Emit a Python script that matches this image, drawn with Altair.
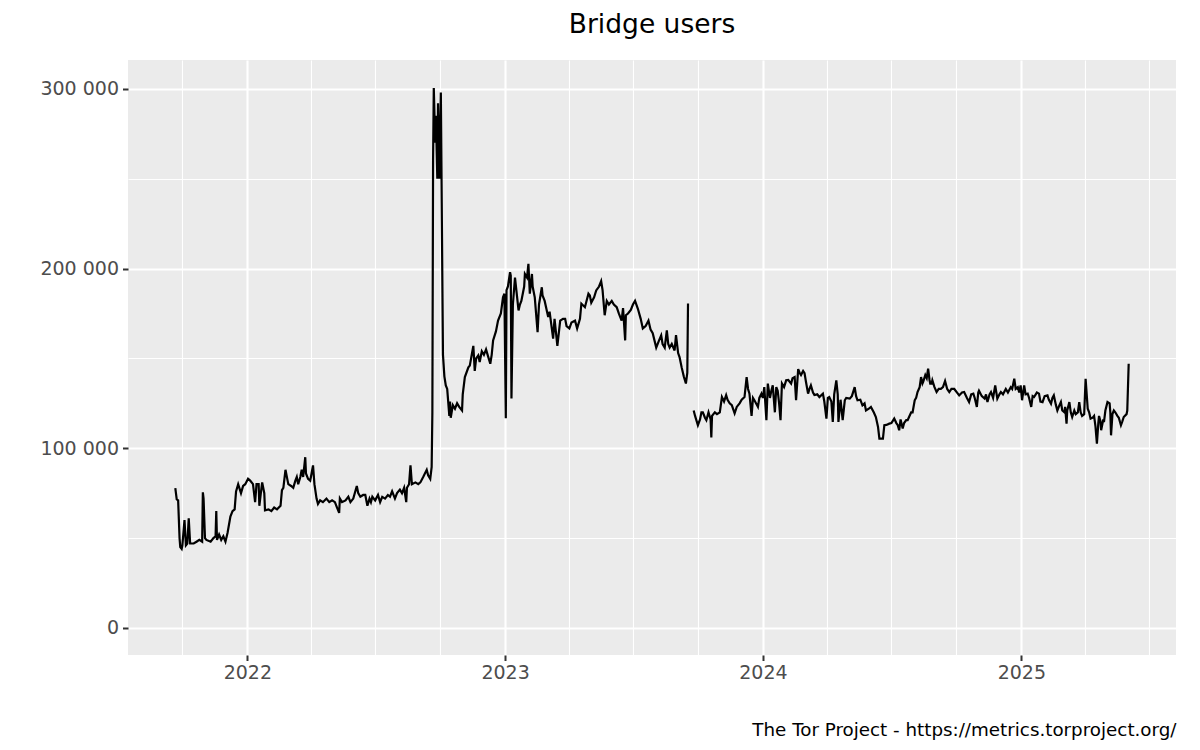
import altair as alt
import pandas as pd

# Dates are stored as day offsets from 2022-01-01
START = pd.Timestamp("2022-01-01")

seg1_days = [-102, -100, -98, -96, -95, -93, -92, -89, -87, -85, -83, -81, -76, -72, -68, -64, -63, -62, -60, -58,
             -52, -48, -45, -44, -43, -40, -37, -34, -31, -28, -24, -21, -18, -16, -13, -9, -6, -3, 1, 4,
             8, 11, 13, 16, 17, 20, 21, 24, 25, 30, 34, 38, 42, 47, 49, 51, 54, 57, 58, 62,
             65, 68, 70, 72, 75, 77, 79, 82, 83, 86, 89, 90, 93, 95, 98, 100, 103, 107, 112, 116,
             120, 124, 127, 130, 131, 134, 139, 143, 146, 150, 155, 157, 160, 164, 167, 170, 173, 175, 177, 181,
             185, 188, 191, 195, 199, 202, 205, 209, 212, 216, 219, 222, 225, 226, 229, 231, 233, 238, 242, 245,
             249, 254, 256, 259, 261, 262, 263, 264, 266, 267, 269, 270, 272, 274, 276, 277, 279, 281, 283, 286,
             287, 288, 291, 294, 297, 300, 304, 305, 308, 313, 315, 318, 320, 322, 324, 327, 329, 332, 335, 338,
             341, 344, 346, 348, 352, 355, 359, 362, 364, 366, 367, 369, 372, 373, 374, 376, 379, 384, 386, 388,
             392, 393, 396, 398, 400, 403, 404, 407, 411, 413, 417, 418, 421, 426, 428, 433, 435, 439, 443, 447,
             450, 452, 456, 459, 464, 467, 471, 473, 478, 483, 485, 487, 491, 494, 498, 501, 503, 506, 509, 512,
             516, 519, 523, 526, 530, 532, 535, 536, 539, 543, 546, 549, 553, 557, 560, 564, 568, 571, 574, 579,
             583, 586, 588, 591, 594, 596, 598, 601, 605, 607, 610, 612, 615, 618, 621, 623, 624]
seg1_users = [77800, 71500, 71000, 50000, 45000, 44000, 46000, 60000, 46000, 47000, 61000, 47000, 47000, 48000, 49000, 48000, 75500, 72000, 50000, 49000,
              48000, 50000, 51000, 65000, 49000, 52000, 49000, 51000, 48000, 53000, 62000, 65000, 66000, 76000, 80000, 75000, 79000, 80000, 83000, 82000,
              80000, 70000, 80000, 80000, 68000, 78000, 81000, 75000, 65500, 66000, 65000, 67000, 66000, 68000, 76700, 78000, 88000, 82000, 80000, 79000,
              78000, 82000, 84000, 80000, 84000, 88000, 84000, 95000, 86000, 83000, 82000, 84000, 90500, 80000, 72000, 69000, 71000, 70000, 72000, 70000,
              71000, 70000, 67000, 64000, 72000, 70000, 71000, 73000, 70000, 72000, 79000, 75000, 73000, 74000, 74000, 68000, 72000, 70000, 73000, 71000,
              74000, 70000, 73000, 72000, 74000, 73000, 76000, 72000, 75000, 77000, 75000, 78000, 70000, 78000, 80000, 90500, 80000, 81000, 80000, 81000,
              84000, 88000, 85000, 83000, 89600, 120000, 260000, 300500, 270000, 285000, 250000, 292000, 250000, 298000, 200000, 152000, 140000, 135000, 133000, 118000,
              126000, 117000, 124000, 122000, 125000, 123000, 121000, 130000, 139600, 145000, 146000, 152600, 157000, 143000, 150000, 151700, 148000, 154000, 152000, 155000,
              151000, 147000, 152000, 160000, 165000, 171000, 175000, 184000, 186000, 116700, 188000, 190000, 198000, 196000, 127700, 180000, 195000, 176700, 180000, 182000,
              190000, 197000, 195000, 202600, 186000, 197000, 190000, 184000, 164600, 180000, 189600, 185000, 182000, 173000, 176000, 161000, 172000, 157000, 171000, 172000,
              172000, 168000, 166700, 170000, 171000, 166700, 172000, 180500, 178500, 186000, 185000, 181000, 184000, 187800, 190000, 193000, 188000, 174000, 182000, 180000,
              182000, 180000, 178500, 175000, 171000, 178000, 160000, 174000, 175000, 177000, 180000, 182000, 177600, 172000, 166700, 168000, 171000, 166000, 164000, 156000,
              160000, 162800, 158000, 156000, 165600, 158000, 156000, 158000, 154400, 163000, 153000, 150700, 145000, 140000, 136000, 142000, 180500]

seg2_days = [632, 634, 638, 641, 643, 645, 648, 650, 653, 656, 657, 658, 662, 665, 669, 672, 675, 678, 680, 683,
             686, 690, 693, 697, 700, 704, 707, 709, 711, 714, 716, 718, 723, 725, 728, 730, 732, 735, 737, 740,
             742, 744, 747, 749, 751, 753, 755, 757, 760, 763, 766, 770, 772, 775, 777, 780, 782, 784, 787, 789,
             791, 794, 796, 798, 801, 803, 807, 810, 815, 817, 820, 822, 824, 827, 829, 831, 834, 836, 837, 840,
             843, 846, 848, 853, 856, 860, 862, 864, 868, 871, 874, 876, 880, 883, 887, 890, 893, 895, 900, 902,
             905, 909, 912, 916, 919, 921, 923, 925, 928, 930, 933, 935, 937, 940, 942, 945, 947, 949, 952, 954,
             956, 957, 960, 962, 964, 966, 967, 969, 970, 973, 976, 979, 982, 985, 988, 991, 994, 997, 1001, 1005,
             1008, 1012, 1015, 1019, 1022, 1025, 1028, 1030, 1033, 1035, 1036, 1040, 1044, 1046, 1048, 1051, 1053, 1056, 1059, 1062,
             1065, 1067, 1070, 1074, 1077, 1081, 1083, 1086, 1088, 1091, 1093, 1095, 1097, 1100, 1102, 1105, 1107, 1110, 1112, 1114,
             1118, 1121, 1123, 1126, 1129, 1133, 1135, 1138, 1140, 1142, 1145, 1147, 1150, 1152, 1154, 1157, 1158, 1160, 1161, 1164,
             1166, 1168, 1171, 1173, 1176, 1178, 1180, 1182, 1185, 1187, 1190, 1192, 1194, 1197, 1199, 1201, 1203, 1205, 1206, 1208,
             1209, 1212, 1213, 1215, 1218, 1221, 1222, 1223, 1225, 1227, 1229, 1232, 1234, 1237, 1239, 1241, 1245, 1246, 1248]
seg2_users = [121000, 118000, 112800, 116000, 120000, 120000, 117000, 115600, 120000, 116000, 106000, 118000, 120000, 119000, 120000, 128500, 126000, 129600, 127000, 125000,
              124000, 119400, 123000, 125000, 127000, 128500, 139600, 133000, 130400, 118000, 128000, 126700, 123000, 128000, 130400, 128000, 134000, 115600, 136000, 128000,
              132000, 135000, 120000, 134000, 132000, 125000, 115600, 136000, 134000, 137800, 138000, 136000, 139000, 139600, 126700, 144000, 142000, 140700, 143000, 141800,
              137000, 130400, 133000, 135000, 131000, 129600, 130000, 128500, 130400, 126000, 116500, 128000, 128500, 126000, 114600, 130000, 137800, 130000, 114600, 127000,
              115600, 126700, 128000, 127600, 129000, 134000, 129000, 126700, 127000, 123900, 125000, 121000, 122000, 123000, 120000, 117400, 112000, 105400, 105400, 112800,
              113000, 113700, 114000, 116500, 114000, 112800, 110000, 116000, 111000, 114000, 115600, 115600, 117400, 120000, 120000, 126700, 128000, 131300, 134000, 139600,
              136000, 136900, 140700, 139000, 144300, 138000, 136000, 136000, 137800, 134000, 131300, 133000, 133000, 134000, 137400, 133000, 131300, 133000, 133000, 131000,
              129400, 131000, 131300, 128000, 125700, 130000, 130400, 128000, 123000, 131000, 132000, 129000, 127600, 130000, 125700, 130000, 131300, 128000, 135000, 127600,
              130000, 131300, 130000, 133000, 131000, 134000, 133000, 138700, 133000, 134000, 131000, 135000, 126700, 135000, 130000, 130400, 128000, 123000, 129000, 128500,
              131000, 130400, 126000, 125700, 129000, 129400, 127000, 124800, 128000, 129400, 124000, 121000, 124000, 125700, 121000, 120000, 123000, 113700, 121000, 125700,
              120000, 117400, 121000, 119000, 120000, 125700, 120000, 118000, 119000, 138700, 122000, 120000, 116500, 117000, 118000, 112000, 102600, 114000, 118000, 115000,
              110000, 116000, 114600, 121000, 125700, 125000, 120000, 107200, 119000, 121000, 120000, 118000, 117000, 112800, 115000, 117400, 119000, 121000, 147000]

year_ticks = ["2022-01-01", "2023-01-01", "2024-01-01", "2025-01-01"]
quarter_ticks = ["2021-10-01", "2022-04-01", "2022-07-01", "2022-10-01", "2023-04-01", "2023-07-01",
                 "2023-10-01", "2024-04-01", "2024-07-01", "2024-10-01", "2025-04-01", "2025-07-01"]
y_major = [0, 100000, 200000, 300000]
y_minor = [50000, 150000, 250000]
x_domain = ["2021-07-16", "2025-08-08"]
y_domain = [-15050, 316050]

assert len(seg1_days) == len(seg1_users), (len(seg1_days), len(seg1_users))
assert len(seg2_days) == len(seg2_users), (len(seg2_days), len(seg2_users))

rows = []
for seg, days, users in ((1, seg1_days, seg1_users), (2, seg2_days, seg2_users)):
    for d, u in zip(days, users):
        rows.append({"date": (START + pd.Timedelta(days=d)).strftime("%Y-%m-%d"),
                     "users": u, "segment": seg})
df = pd.DataFrame(rows)


def dt(s):
    y, m, d = (int(p) for p in s.split("-"))
    return alt.DateTime(year=y, month=m, date=d, utc=True)


x_scale = alt.Scale(type="utc", domain=[dt(s) for s in x_domain])
y_scale = alt.Scale(domain=y_domain, nice=False, zero=False)

LABEL_FONT = "DejaVu Sans"

minor = alt.Chart(df).mark_line(opacity=0).encode(
    x=alt.X("date:T", scale=x_scale,
            axis=alt.Axis(values=[dt(s) for s in quarter_ticks], orient="top", labels=False,
                          ticks=False, domain=False, grid=True, gridColor="white",
                          gridWidth=1.1, title=None)),
    y=alt.Y("users:Q", scale=y_scale,
            axis=alt.Axis(values=y_minor, orient="right", labels=False, ticks=False,
                          domain=False, grid=True, gridColor="white", gridWidth=1.1,
                          title=None)),
    detail="segment:N",
)

line = alt.Chart(df).mark_line(color="black", strokeWidth=2.2).encode(
    x=alt.X("date:T", scale=x_scale,
            axis=alt.Axis(values=[dt(s) for s in year_ticks], format="%Y", formatType="utc",
                          grid=True, gridColor="white", gridWidth=2.1, domain=False,
                          ticks=True, tickSize=5.5, tickWidth=2, tickColor="#333333",
                          labelFont=LABEL_FONT, labelFontSize=19, labelColor="#4D4D4D",
                          labelPadding=3,
                          title="The Tor Project - https://metrics.torproject.org/",
                          titleFont=LABEL_FONT, titleFontSize=18.3, titleFontWeight="normal",
                          titleColor="black", titleAnchor="end", titleAlign="right",
                          titlePadding=39)),
    y=alt.Y("users:Q", scale=y_scale,
            axis=alt.Axis(values=y_major, grid=True, gridColor="white", gridWidth=2.1,
                          domain=False, ticks=True, tickSize=5.5, tickWidth=2,
                          tickColor="#333333", labelFont=LABEL_FONT, labelFontSize=19,
                          labelColor="#4D4D4D", labelPadding=4,
                          labelExpr="replace(format(datum.value, ','), ',', ' ')",
                          title=None)),
    detail="segment:N",
)

chart = alt.layer(minor, line).resolve_axis(x="independent", y="independent").properties(
    width=1048,
    height=595,
    autosize=alt.AutoSizeParams(type="none"),
    padding={"left": 120, "top": 52, "right": 16, "bottom": 87},
    title=alt.TitleParams("Bridge users", font=LABEL_FONT, fontSize=26.5, fontWeight="normal",
                          color="black", anchor="middle", frame="group", offset=22),
).configure(font=LABEL_FONT).configure_view(fill="#EBEBEB", strokeWidth=0)

chart.save("out.html", embed_options={"renderer": "svg", "actions": False})
